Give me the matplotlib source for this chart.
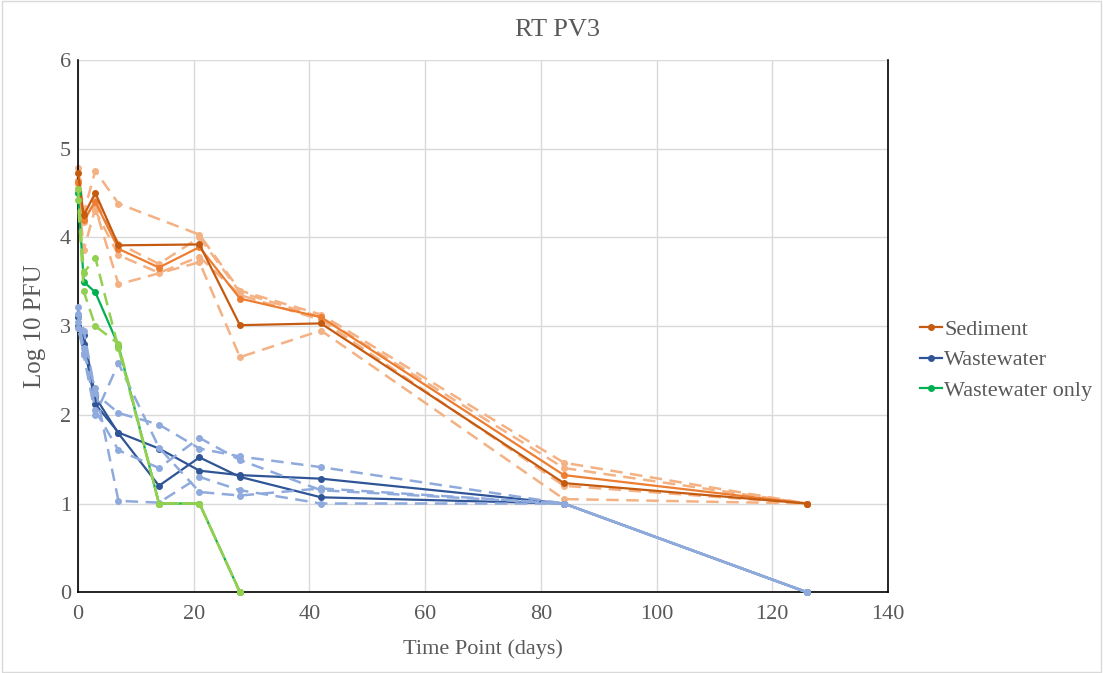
import numpy as np
import matplotlib
matplotlib.use("Agg")
import matplotlib.pyplot as plt
from matplotlib.lines import Line2D

plt.rcParams['font.family'] = ['Liberation Serif', 'DejaVu Serif']

days = [0, 1, 3, 7, 14, 21, 28, 42, 84, 126]
N = None

# Sediment (solid = means, dashed = replicates)
sed_a = [4.72, 4.25, 4.50, 3.91, N, 3.92, 3.01, 3.03, 1.23, 1.00]
sed_b = [4.62, 4.20, 4.40, 3.87, 3.66, 3.89, 3.31, 3.10, 1.32, 1.00]
sed_reps = [
    [4.78, 4.28, 4.75, 4.38, N, 4.03, 3.40, 3.13, 1.46, 1.00],
    [4.55, 3.86, 4.33, 3.47, N, 3.72, 2.65, 2.95, 1.05, 1.00],
    [4.65, 4.17, 4.42, 3.93, 3.70, 4.00, 3.38, 3.10, 1.40, 1.00],
    [4.60, 4.22, 4.30, 3.80, 3.60, 3.78, 3.35, 3.07, 1.20, 1.00],
]

# Wastewater
ww_a = [3.10, 2.80, 2.12, 1.80, 1.62, 1.37, 1.32, 1.28, 1.00, 0.00]
ww_b = [3.00, 2.90, 2.20, 1.79, 1.20, 1.52, 1.30, 1.07, 1.00, 0.00]
ww_reps = [
    [3.21, 2.95, 2.24, 2.02, 1.89, 1.62, 1.53, 1.41, 1.00, 0.00],
    [3.14, 2.67, 2.00, 2.58, 1.63, 1.13, 1.09, 1.17, 1.00, 0.00],
    [3.05, 2.75, 2.05, 1.60, 1.40, 1.74, 1.49, 1.15, 1.00, 0.00],
    [2.98, 2.70, 2.30, 1.03, 1.01, 1.30, 1.15, 1.00, 1.00, 0.00],
]

# Wastewater only (ends at day 28)
wo_days = [0, 1, 3, 7, 14, 21, 28]
wo_mean = [4.50, 3.50, 3.38, 2.78, 1.00, 1.00, 0.00]
wo_reps = [
    [4.55, 3.60, 3.77, 2.75, 1.00, 1.00, 0.00],
    [4.42, 3.39, 3.00, 2.80, 1.00, 1.00, 0.00],
]

C_SED, C_SED2, C_SEDR = '#C55A11', '#ED7D31', '#F4B183'
C_WW, C_WWR = '#2F5597', '#8FAADC'
C_WO, C_WOR = '#00B050', '#92D050'
GREY = '#595959'


def draw(ax, x, y, color, z, dashed=False, offset=0):
    pts = [(a, b) for a, b in zip(x, y) if b is not None]
    xs, ys = zip(*pts)
    line, = ax.plot(xs, ys, color=color, lw=1.8 if dashed else 1.6, marker='o',
                    ms=4, zorder=z, clip_on=False)
    if dashed:
        line.set_linestyle((offset, (5, 3)))
    return line


fig = plt.figure(figsize=(11.03, 6.73), dpi=100)
ax = fig.add_axes([0.0707, 0.12, 0.7343, 0.791])

for i, r in enumerate(sed_reps):
    draw(ax, days, r, C_SEDR, 2, True, i * 2)
draw(ax, days, sed_b, C_SED2, 3)
draw(ax, days, sed_a, C_SED, 3)
draw(ax, days, ww_a, C_WW, 3)
draw(ax, days, ww_b, C_WW, 3)
for i, r in enumerate(ww_reps):
    draw(ax, days, r, C_WWR, 4, True, i * 2)
draw(ax, wo_days, wo_mean, C_WO, 3)
for i, r in enumerate(wo_reps):
    draw(ax, wo_days, r, C_WOR, 4, True, i * 4)

ax.set_xlim(0, 140)
ax.set_ylim(0, 6)
ax.set_xticks(np.arange(0, 141, 20))
ax.set_yticks(np.arange(0, 7, 1))
ax.grid(True, color='#D9D9D9', lw=1)
ax.set_axisbelow(True)
ax.tick_params(axis='x', length=0, labelsize=16, colors=GREY, pad=9)
ax.tick_params(axis='y', length=0, labelsize=16, colors=GREY, pad=5)
for s in ['left', 'bottom', 'right']:
    ax.spines[s].set_color('black')
    ax.spines[s].set_linewidth(1.2)
ax.spines['top'].set_visible(False)

ax.set_xlabel('Time Point (days)', fontsize=16, color=GREY, labelpad=11)
ax.set_ylabel('Log 10 PFU', fontsize=18, color=GREY, labelpad=10)
fig.text(0.505, 1 - 30 / 673, 'RT PV3', fontsize=19, color=GREY,
         ha='center', va='center')

handles = [
    Line2D([], [], color=C_SED, lw=1.6, marker='o', ms=4),
    Line2D([], [], color=C_WW, lw=1.6, marker='o', ms=4),
    Line2D([], [], color=C_WO, lw=1.6, marker='o', ms=4),
]
fig.legend(handles, ['Sediment', 'Wastewater', 'Wastewater only'],
           loc='center left', bbox_to_anchor=(0.834, 0.465), frameon=False,
           borderpad=0, borderaxespad=0,
           fontsize=16, handlelength=1.0, handletextpad=0.1, labelspacing=0.45,
           labelcolor=GREY)

fig.patches.append(plt.Rectangle((0.002, 0.002), 0.996, 0.996, transform=fig.transFigure,
                                 fill=False, edgecolor='#D9D9D9', lw=1))

fig.savefig('out.png', dpi=100)
